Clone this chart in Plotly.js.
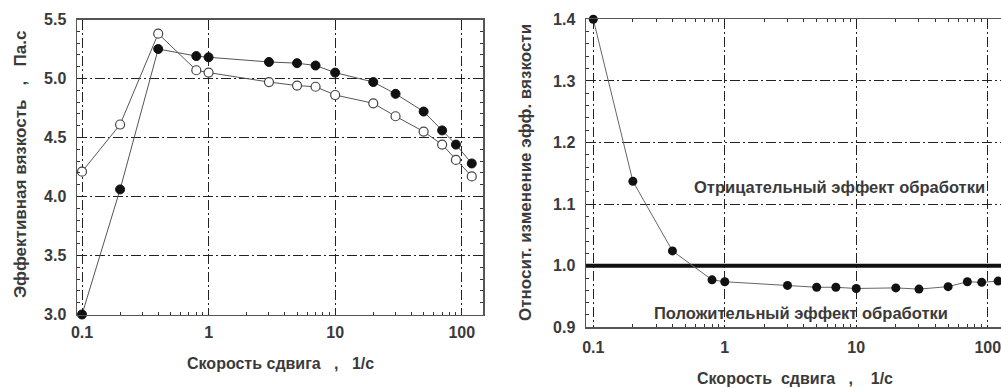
<!DOCTYPE html>
<html>
<head>
<meta charset="utf-8">
<script src="https://cdn.plot.ly/plotly-3.0.1.min.js"></script>
<style>html,body{margin:0;padding:0;background:#fff;}#chart{width:1001px;height:388px;}</style>
</head>
<body>
<div id="chart"></div>
<script>
// Left chart: effective viscosity vs shear rate
const shearLeft = [0.1, 0.2, 0.4, 0.8, 1, 3, 5, 7, 10, 20, 30, 50, 70, 90, 120];
const viscFilled = [3.0, 4.06, 5.25, 5.19, 5.18, 5.14, 5.13, 5.11, 5.05, 4.97, 4.87, 4.72, 4.56, 4.44, 4.28];
const viscOpen = [4.21, 4.61, 5.38, 5.07, 5.05, 4.97, 4.94, 4.93, 4.86, 4.79, 4.68, 4.55, 4.44, 4.31, 4.17];
// Right chart: relative change of effective viscosity
const shearRight = [0.1, 0.2, 0.4, 0.8, 1, 3, 5, 7, 10, 20, 30, 50, 70, 90, 120];
const relChange = [1.4, 1.137, 1.024, 0.977, 0.974, 0.968, 0.965, 0.965, 0.963, 0.964, 0.962, 0.966, 0.974, 0.973, 0.975];
const refLine = [1.0, 1.0];
const refX = [0.05, 200];
const xTickVals = [0.1, 1, 10, 100];
const xTickText = ['0.1', '1', '10', '100'];
const minorX = [0.2,0.3,0.4,0.5,0.6,0.7,0.8,0.9,2,3,4,5,6,7,8,9,20,30,40,50,60,70,80,90,200];

const txtCol = '#3a3a3a';
const fontF = '"Liberation Sans", Arial, sans-serif';
const dashGrid = '10px,3px,2px,3px';
const S = '\u00a0';

const traces = [
  {x: shearLeft, y: viscFilled, xaxis: 'x', yaxis: 'y', mode: 'lines+markers', cliponaxis: false,
   line: {color: '#555', width: 1}, marker: {color: '#111', size: 9, line: {color: '#111', width: 1}}},
  {x: shearLeft, y: viscOpen, xaxis: 'x', yaxis: 'y', mode: 'lines+markers', cliponaxis: false,
   line: {color: '#555', width: 1}, marker: {color: '#fff', size: 9, line: {color: '#444', width: 1.2}}},
  {x: refX, y: refLine, xaxis: 'x2', yaxis: 'y2', mode: 'lines', line: {color: '#111', width: 4}},
  {x: shearRight, y: relChange, xaxis: 'x2', yaxis: 'y2', mode: 'lines+markers', cliponaxis: false,
   line: {color: '#666', width: 1}, marker: {color: '#111', size: 9}}
];

function xAx(domain, range, mirror, standoff) {
  return {
    type: 'log', domain: domain, range: range, anchor: domain[0] < 0.5 ? 'y' : 'y2',
    tickmode: 'array', tickvals: xTickVals, ticktext: xTickText, ticks: '',
    showline: true, linecolor: '#555', linewidth: 1.5, mirror: mirror,
    showgrid: true, gridcolor: '#222', gridwidth: 1, griddash: dashGrid,
    zeroline: false, ticklabelstandoff: standoff, ticklabeloverflow: 'allow',
    tickfont: {family: fontF, size: 16, color: txtCol, weight: 'bold'},
    minor: {tickmode: 'array', tickvals: minorX, ticks: 'inside', ticklen: 3, tickcolor: '#333', tickwidth: 1, showgrid: false}
  };
}
function yAx(domain, range, dt, mdt, mirror) {
  return {
    domain: domain, range: range, anchor: domain[0] > 0.17 ? 'x' : 'x2',
    dtick: dt, tick0: 0, ticks: '', tickformat: '.1f',
    showline: true, linecolor: '#555', linewidth: 1.5, mirror: mirror,
    showgrid: true, gridcolor: '#222', gridwidth: 1, griddash: dashGrid,
    zeroline: false, ticklabelstandoff: 6,
    tickfont: {family: fontF, size: 16, color: txtCol, weight: 'bold'},
    minor: {dtick: mdt, tick0: 0, ticks: 'inside', ticklen: 3, tickcolor: '#333', tickwidth: 1, showgrid: false}
  };
}

const xtFont = {family: fontF, size: 16, color: txtCol, weight: 'bold'};
const ytFont = {family: fontF, size: 17, color: txtCol, weight: 'bold'};
const noteFont = {family: fontF, size: 16.5, color: txtCol, weight: 'bold'};
const layout = {
  width: 1001, height: 388,
  margin: {l: 0, r: 0, t: 0, b: 0},
  paper_bgcolor: '#fff', plot_bgcolor: '#fff',
  showlegend: false,
  xaxis: xAx([77/1001, 483/1001], [-1.0395, 2.168], true, 3),
  yaxis: yAx([(388-314.5)/388, (388-19.5)/388], [3.0, 5.5], 0.5, 0.1, 'allticks'),
  xaxis2: xAx([586/1001, 1], [-1.0555, 2.101], 'allticks', 5),
  yaxis2: yAx([(388-327.3)/388, (388-19.3)/388], [0.9, 1.4], 0.1, 0.02, false),
  annotations: [
    {text: 'Скорость сдвига' + S+S+S + ',' + S+S+S + '1/с', xref: 'paper', yref: 'paper', x: 280/1001, y: (388-363)/388,
     showarrow: false, font: xtFont, xanchor: 'center', yanchor: 'middle'},
    {text: 'Эффективная вязкость' + S+S+S + ',' + S+S+S + 'Па.с', xref: 'paper', yref: 'paper', x: 20/1001, y: (388-165)/388,
     showarrow: false, font: ytFont, textangle: -90, xanchor: 'center', yanchor: 'middle'},
    {text: 'Скорость' + S+S + 'сдвига' + S+S+S + ',' + S+S+S+S + '1/с', xref: 'paper', yref: 'paper', x: 795/1001, y: (388-378)/388,
     showarrow: false, font: xtFont, xanchor: 'center', yanchor: 'middle'},
    {text: 'Относит. изменение эфф. вязкости', xref: 'paper', yref: 'paper', x: 525/1001, y: (388-173)/388,
     showarrow: false, font: ytFont, textangle: -90, xanchor: 'center', yanchor: 'middle'},
    {text: 'Отрицательный эффект обработки', xref: 'paper', yref: 'paper', x: 839/1001, y: (388-187)/388,
     showarrow: false, font: noteFont, xanchor: 'center', yanchor: 'middle'},
    {text: 'Положительный эффект обработки', xref: 'paper', yref: 'paper', x: 801/1001, y: (388-313)/388,
     showarrow: false, font: noteFont, xanchor: 'center', yanchor: 'middle'}
  ]
};

Plotly.newPlot('chart', traces, layout, {staticPlot: true, displayModeBar: false});
</script>
</body>
</html>
